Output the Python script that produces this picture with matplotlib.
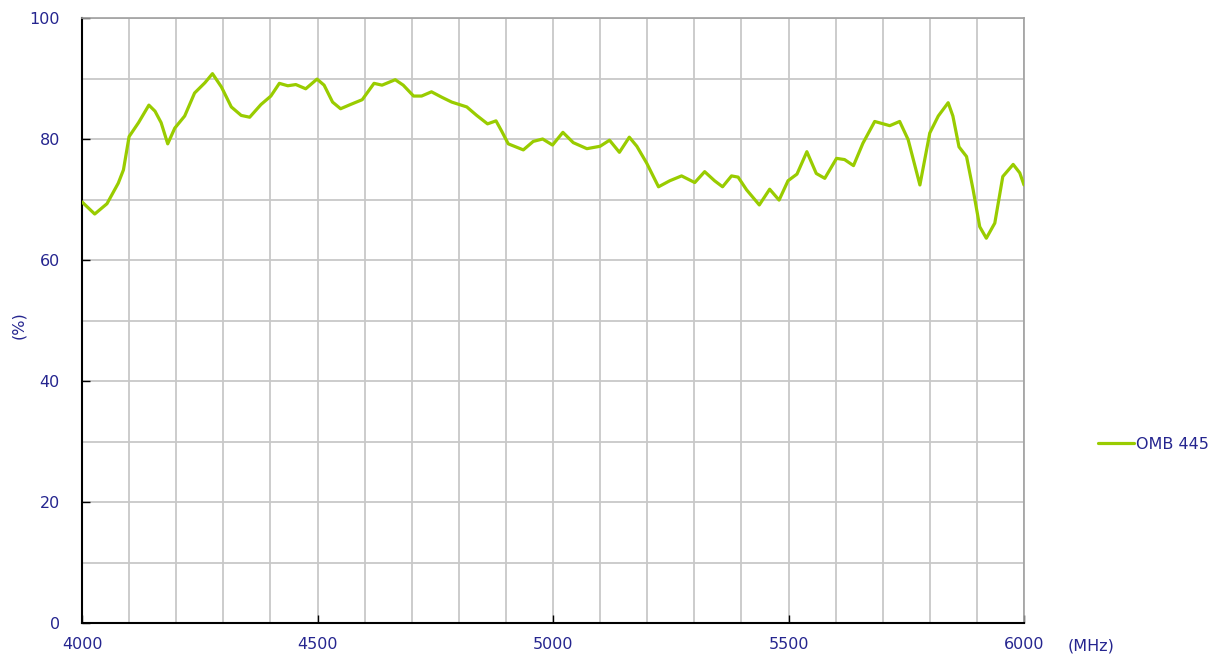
import matplotlib.pyplot as plt
import numpy as np

# frequency (MHz) and efficiency (%)
freq = [4000, 4027, 4053, 4077, 4088, 4100, 4120, 4142, 4155, 4168, 4182, 4197,
        4218, 4239, 4261, 4277, 4296, 4317, 4338, 4356, 4380, 4401, 4419, 4437,
        4454, 4475, 4499, 4514, 4532, 4549, 4570, 4595, 4620, 4637, 4665, 4682,
        4704, 4721, 4742, 4764, 4785, 4817, 4838, 4861, 4879, 4891, 4905, 4937,
        4958, 4978, 4999, 5021, 5043, 5072, 5100, 5120, 5141, 5162, 5178, 5199,
        5224, 5248, 5273, 5301, 5322, 5343, 5360, 5379, 5393, 5411, 5438, 5460,
        5480, 5499, 5518, 5539, 5559, 5577, 5602, 5619, 5638, 5658, 5683, 5715,
        5736, 5754, 5779, 5800, 5818, 5839, 5849, 5862, 5878, 5892, 5906, 5920,
        5938, 5955, 5977, 5991, 6000]
eff = [69.6, 67.6, 69.3, 72.7, 74.9, 80.4, 82.7, 85.6, 84.6, 82.7, 79.2, 81.8,
       83.8, 87.6, 89.3, 90.8, 88.6, 85.3, 83.9, 83.6, 85.7, 87.1, 89.2, 88.8,
       89.0, 88.3, 89.9, 88.9, 86.1, 85.0, 85.7, 86.5, 89.2, 88.9, 89.8, 88.9,
       87.1, 87.1, 87.8, 86.9, 86.1, 85.3, 83.9, 82.5, 83.0, 81.3, 79.2, 78.2,
       79.6, 80.0, 79.0, 81.1, 79.4, 78.4, 78.8, 79.8, 77.8, 80.3, 78.8, 76.0,
       72.1, 73.1, 73.9, 72.8, 74.6, 73.1, 72.1, 73.9, 73.7, 71.6, 69.1, 71.7,
       69.9, 73.1, 74.2, 77.9, 74.3, 73.5, 76.8, 76.6, 75.6, 79.3, 82.9, 82.2,
       82.9, 79.9, 72.4, 81.0, 83.8, 86.0, 83.8, 78.7, 77.1, 71.6, 65.5, 63.6,
       66.1, 73.8, 75.8, 74.4, 72.4]
series_name = "OMB 445"
x_ticks = [4000, 4500, 5000, 5500, 6000]
y_ticks = [0, 20, 40, 60, 80, 100]

label_color = "#25258f"
line_color = "#99cc00"
grid_color = "#c8c8c8"
fs = 11.5

fig = plt.figure(figsize=(12.18, 6.61), dpi=100)
ax = fig.add_axes([82 / 1218, 38 / 661, 942 / 1218, 605 / 661])

ax.plot(freq, eff, color=line_color, lw=2.3, label=series_name,
        solid_capstyle="round", solid_joinstyle="round", zorder=3)

ax.set_xlim(4000, 6000)
ax.set_ylim(0, 100)
ax.set_xticks(x_ticks)
ax.set_yticks(y_ticks)
ax.set_xticks(np.arange(4000, 6001, 100), minor=True)
ax.set_yticks(np.arange(0, 101, 10), minor=True)
ax.grid(which="both", color=grid_color, lw=1.3)
ax.set_axisbelow(True)

ax.tick_params(which="major", direction="in", length=6, colors="black",
               labelcolor=label_color, labelsize=fs, width=1)
ax.tick_params(which="minor", length=0)
ax.tick_params(axis="x", pad=10)
ax.tick_params(axis="y", pad=16)

for side in ["top", "right"]:
    ax.spines[side].set_color("#a0a0a0")
    ax.spines[side].set_linewidth(1.2)
for side in ["left", "bottom"]:
    ax.spines[side].set_color("black")
    ax.spines[side].set_linewidth(1.5)

fig.text(19 / 1218, 1 - 325 / 661, "(%)", rotation=90, color=label_color,
         fontsize=fs, ha="center", va="center")
fig.text(1091 / 1218, 1 - 646 / 661, "(MHz)", color=label_color,
         fontsize=fs, ha="center", va="center")

leg = ax.legend(loc="center left", bbox_to_anchor=(1.063, 0.295), frameon=False,
                handlelength=2.3, handletextpad=0.1, fontsize=fs)
for t in leg.get_texts():
    t.set_color(label_color)

fig.savefig("out.png", dpi=100)
